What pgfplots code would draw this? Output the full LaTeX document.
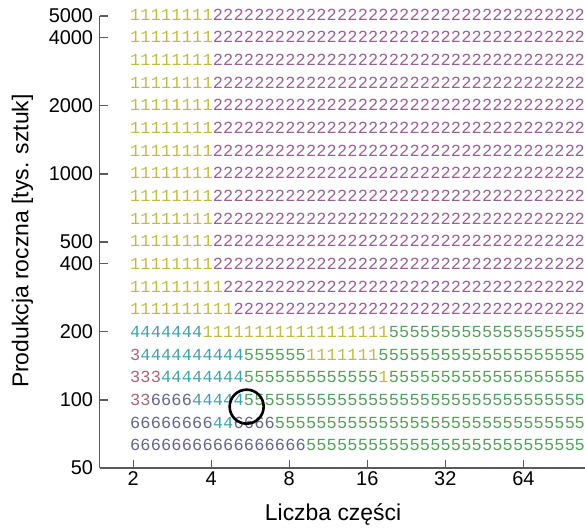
\documentclass[border=0pt]{standalone}
\usepackage{fontspec}
\setmainfont{Liberation Sans}
\newfontfamily\digitfont{Liberation Mono}
\usepackage{pgfplots}
\usepackage{pgfplotstable}
\pgfplotsset{compat=1.18}
\definecolor{c1}{RGB}{192,186,72}
\definecolor{c2}{RGB}{152,96,150}
\definecolor{c3}{RGB}{172,102,118}
\definecolor{c4}{RGB}{66,162,172}
\definecolor{c5}{RGB}{84,160,90}
\definecolor{c6}{RGB}{102,102,138}
\definecolor{axisgray}{RGB}{90,90,90}
\newcommand\dig[1]{\ifcase#1\or\textcolor{c1}{1}\or\textcolor{c2}{2}\or\textcolor{c3}{3}\or\textcolor{c4}{4}\or\textcolor{c5}{5}\or\textcolor{c6}{6}\fi}
% columns: x position of each character column; digit of each row
% t = rows 400..5080 (all alike), a5=317.5, a4=252, a3=200, a2=158.7, a1=126, a0=100, b1=79.4, b2=63
\pgfplotstableread{
x t a5 a4 a3 a2 a1 a0 b1 b2
2.038 1 1 1 4 3 3 3 6 6
2.234 1 1 1 4 4 3 3 6 6
2.449 1 1 1 4 4 3 6 6 6
2.685 1 1 1 4 4 4 6 6 6
2.943 1 1 1 4 4 4 6 6 6
3.226 1 1 1 4 4 4 6 6 6
3.537 1 1 1 4 4 4 4 6 6
3.877 1 1 1 1 4 4 4 6 6
4.250 2 1 1 1 4 4 4 4 6
4.660 2 2 1 1 4 4 4 4 6
5.108 2 2 2 1 4 4 4 6 6
5.600 2 2 2 1 5 5 5 6 6
6.139 2 2 2 1 5 5 5 6 6
6.730 2 2 2 1 5 5 5 6 6
7.378 2 2 2 1 5 5 5 5 6
8.088 2 2 2 1 5 5 5 5 6
8.866 2 2 2 1 5 5 5 5 6
9.720 2 2 2 1 1 5 5 5 5
10.655 2 2 2 1 1 5 5 5 5
11.681 2 2 2 1 1 5 5 5 5
12.806 2 2 2 1 1 5 5 5 5
14.039 2 2 2 1 1 5 5 5 5
15.390 2 2 2 1 1 5 5 5 5
16.871 2 2 2 1 1 5 5 5 5
18.495 2 2 2 1 5 1 5 5 5
20.275 2 2 2 5 5 5 5 5 5
22.227 2 2 2 5 5 5 5 5 5
24.366 2 2 2 5 5 5 5 5 5
26.712 2 2 2 5 5 5 5 5 5
29.284 2 2 2 5 5 5 5 5 5
32.102 2 2 2 5 5 5 5 5 5
35.192 2 2 2 5 5 5 5 5 5
38.580 2 2 2 5 5 5 5 5 5
42.294 2 2 2 5 5 5 5 5 5
46.365 2 2 2 5 5 5 5 5 5
50.828 2 2 2 5 5 5 5 5 5
55.722 2 2 2 5 5 5 5 5 5
61.085 2 2 2 5 5 5 5 5 5
66.965 2 2 2 5 5 5 5 5 5
73.410 2 2 2 5 5 5 5 5 5
80.477 2 2 2 5 5 5 5 5 5
88.222 2 2 2 5 5 5 5 5 5
96.715 2 2 2 5 5 5 5 5 5
105.6 2 2 2 5 5 5 5 5 5
}\grid
\pgfplotsset{digits/.style={draw=none, mark=none, point meta=explicit symbolic,
  nodes near coords={\dig{\pgfplotspointmeta}},
  every node near coord/.style={anchor=center, inner sep=0pt, font=\digitfont\fontsize{17}{17}\selectfont}}}
\begin{document}
\begin{tikzpicture}
\useasboundingbox (-99.6bp,-60bp) rectangle (485.4bp,468bp);
\begin{axis}[
  scale only axis, width=485.4bp, height=452bp,
  xmode=log, ymode=log,
  xmin=1.486, xmax=110.6, ymin=50, ymax=5000,
  axis lines=left, axis line style={-, line width=1.1bp, color=axisgray},
  xtick={2,4,8,16,32,64}, xticklabels={2,4,8,16,32,64},
  ytick={50,100,200,400,500,1000,2000,4000,5000},
  yticklabels={50,100,200,400,500,1000,2000,4000,5000},
  xminorticks=false, yminorticks=false,
  tick align=inside, major tick length=8bp,
  tick style={line width=1.1bp, color=axisgray},
  ticklabel style={font=\fontsize{20}{24}\selectfont},
  yticklabel style={xshift=-3bp},
  /pgf/number format/assume math mode=true,
  xlabel={Liczba części}, ylabel={Produkcja roczna [tys. sztuk]},
  every axis x label/.style={at={(axis description cs:0.481,-0.117)}, anchor=base, font=\fontsize{23}{28}\selectfont},
  every axis y label/.style={at={(axis description cs:-0.1465,0.502)}, rotate=90, anchor=base, font=\fontsize{23}{28}\selectfont},
  clip=false,
]
\addplot[digits] table[x=x, y expr=5079.7, meta=t] {\grid};
\addplot[digits] table[x=x, y expr=4031.7, meta=t] {\grid};
\addplot[digits] table[x=x, y expr=3200, meta=t] {\grid};
\addplot[digits] table[x=x, y expr=2539.8, meta=t] {\grid};
\addplot[digits] table[x=x, y expr=2015.9, meta=t] {\grid};
\addplot[digits] table[x=x, y expr=1600, meta=t] {\grid};
\addplot[digits] table[x=x, y expr=1269.9, meta=t] {\grid};
\addplot[digits] table[x=x, y expr=1007.9, meta=t] {\grid};
\addplot[digits] table[x=x, y expr=800, meta=t] {\grid};
\addplot[digits] table[x=x, y expr=635, meta=t] {\grid};
\addplot[digits] table[x=x, y expr=504, meta=t] {\grid};
\addplot[digits] table[x=x, y expr=400, meta=t] {\grid};
\addplot[digits] table[x=x, y expr=317.5, meta=a5] {\grid};
\addplot[digits] table[x=x, y expr=252, meta=a4] {\grid};
\addplot[digits] table[x=x, y expr=200, meta=a3] {\grid};
\addplot[digits] table[x=x, y expr=158.7, meta=a2] {\grid};
\addplot[digits] table[x=x, y expr=126, meta=a1] {\grid};
\addplot[digits] table[x=x, y expr=100, meta=a0] {\grid};
\addplot[digits] table[x=x, y expr=79.37, meta=b1] {\grid};
\addplot[digits] table[x=x, y expr=63, meta=b2] {\grid};
\addplot[only marks, mark=o, mark size=17bp, line width=2.6bp, black] coordinates {(5.484,93.4)};
\end{axis}
\end{tikzpicture}
\end{document}
